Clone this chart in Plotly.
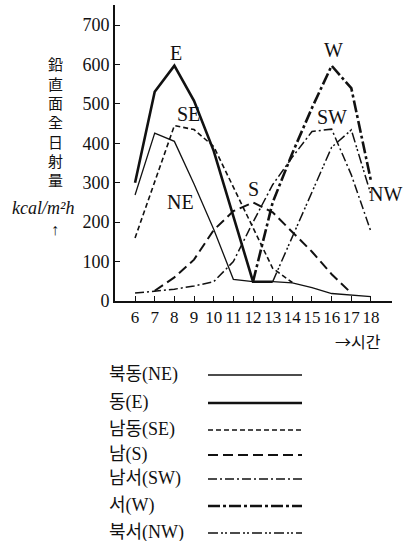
import plotly.graph_objects as go

# ---- data ----
hours = [6, 7, 8, 9, 10, 11, 12, 13, 14, 15, 16, 17, 18]
hour_labels = ["6", "7", "8", "9", "10", "11", "12", "13", "14", "15", "16", "17", "18"]
y_ticks = [0, 100, 200, 300, 400, 500, 600, 700]

ne = [269, 426, 405, 297, 182, 55, 49, 49, 46, 34, 19, 15, 11]
e = [300, 531, 597, 508, 381, 215, 49, 49, None, None, None, None, None]
se = [160, 305, 445, 435, 392, 289, 186, 83, 47, None, None, None, None]
s = [None, 26, 60, 105, 180, 228, 250, 225, 175, 125, 68, 20, None]
sw = [20, 25, 30, 38, 49, 100, 200, 295, 365, 430, 436, 320, 176]
w = [None, None, None, None, None, None, 49, 250, 375, 490, 597, 540, 305]
nw = [None, None, None, None, None, None, None, 49, 162, 276, 390, 434, 270]

series_names = ["NE", "E", "SE", "S", "SW", "W", "NW"]
legend_texts = ["북동(NE)", "동(E)", "남동(SE)", "남(S)", "남서(SW)", "서(W)", "북서(NW)"]
title_chars = list("鉛直面全日射量")

# ---- styles ----
INK = "#111111"
SERIF = "Liberation Serif, Noto Sans CJK KR, serif"
KOR = "Noto Sans CJK KR, Liberation Serif, sans-serif"
styles = {
    "NE": dict(width=1.3, dash="solid"),
    "E": dict(width=2.6, dash="solid"),
    "SE": dict(width=1.6, dash="5px,3px"),
    "S": dict(width=2.0, dash="10px,5px"),
    "SW": dict(width=1.5, dash="9px,3px,2px,3px"),
    "W": dict(width=2.6, dash="12px,3px,3px,3px"),
    "NW": dict(width=1.5, dash="10px,3px,2px,2px,2px,3px"),
}
data = dict(NE=ne, E=e, SE=se, S=s, SW=sw, W=w, NW=nw)

W_PX, H_PX = 407, 541
def px(x):
    return x / W_PX
def py(y):
    return 1 - y / H_PX

fig = go.Figure()
for name in series_names:
    st = styles[name]
    fig.add_trace(go.Scatter(
        x=hours, y=data[name], mode="lines", name=name,
        line=dict(color=INK, width=st["width"], dash=st["dash"]),
        connectgaps=False, showlegend=False, hoverinfo="skip",
    ))

annotations = []
# curve labels (data coordinates)
curve_labels = [("E", 8.1, 630), ("SE", 8.7, 474), ("NE", 8.3, 251), ("S", 12.05, 285),
                ("W", 16.1, 636), ("SW", 16.0, 467), ("NW", 18.75, 272)]
for t, hx, vy in curve_labels:
    annotations.append(dict(x=hx, y=vy, xref="x", yref="y", text=t, showarrow=False,
                            xanchor="center", yanchor="middle",
                            font=dict(family=SERIF, size=20, color=INK)))

# vertical y title, one character per row
for i, ch in enumerate(title_chars):
    annotations.append(dict(x=px(55), y=py(64 + i * 19.3), xref="paper", yref="paper",
                            text=ch, showarrow=False, xanchor="center", yanchor="middle",
                            font=dict(family=KOR, size=15, color=INK)))
annotations.append(dict(x=px(43), y=py(208), xref="paper", yref="paper",
                        text="<i>kcal/m²h</i>", showarrow=False,
                        xanchor="center", yanchor="middle",
                        font=dict(family=SERIF, size=18, color=INK)))
annotations.append(dict(x=px(55), y=py(229), xref="paper", yref="paper",
                        text="↑", showarrow=False, xanchor="center", yanchor="middle",
                        font=dict(family=SERIF, size=16, color=INK)))
annotations.append(dict(x=px(358), y=py(341), xref="paper", yref="paper",
                        text="→시간", showarrow=False, xanchor="center", yanchor="middle",
                        font=dict(family=KOR, size=16, color=INK)))

# legend (text left, line sample right)
legend_y = [374, 402, 429, 454, 478, 505, 532]
shapes = []
for name, txt, ly in zip(series_names, legend_texts, legend_y):
    annotations.append(dict(x=px(107), y=py(ly), xref="paper", yref="paper",
                            text=txt, showarrow=False, xanchor="left", yanchor="middle",
                            font=dict(family=SERIF, size=18, color=INK)))
    st = styles[name]
    shapes.append(dict(type="line", xref="paper", yref="paper",
                       x0=px(208), x1=px(302), y0=py(ly + 1), y1=py(ly + 1),
                       line=dict(color=INK, width=st["width"], dash=st["dash"])))

fig.update_layout(
    width=W_PX, height=H_PX,
    margin=dict(l=0, r=0, t=0, b=0, autoexpand=False),
    paper_bgcolor="white", plot_bgcolor="white",
    annotations=annotations, shapes=shapes,
    xaxis=dict(domain=[px(115), px(392)], range=[4.98, 19.07],
               tickvals=hours, ticktext=hour_labels, ticks="inside", ticklen=5,
               tickangle=0, automargin=False,
               tickwidth=1.3, tickcolor=INK, showline=True, linewidth=2, linecolor=INK,
               showgrid=False, zeroline=False,
               tickfont=dict(family=SERIF, size=17, color=INK)),
    yaxis=dict(domain=[py(301), py(5)], range=[0, 751], automargin=False,
               tickvals=y_ticks, ticks="inside", ticklen=5,
               tickwidth=1.3, tickcolor=INK, showline=True, linewidth=2, linecolor=INK,
               showgrid=False, zeroline=False,
               tickfont=dict(family=SERIF, size=18, color=INK)),
)

fig.write_html("out.html", config={"displayModeBar": False},
               post_script="document.body.style.margin='0';document.body.style.overflow='hidden';")
